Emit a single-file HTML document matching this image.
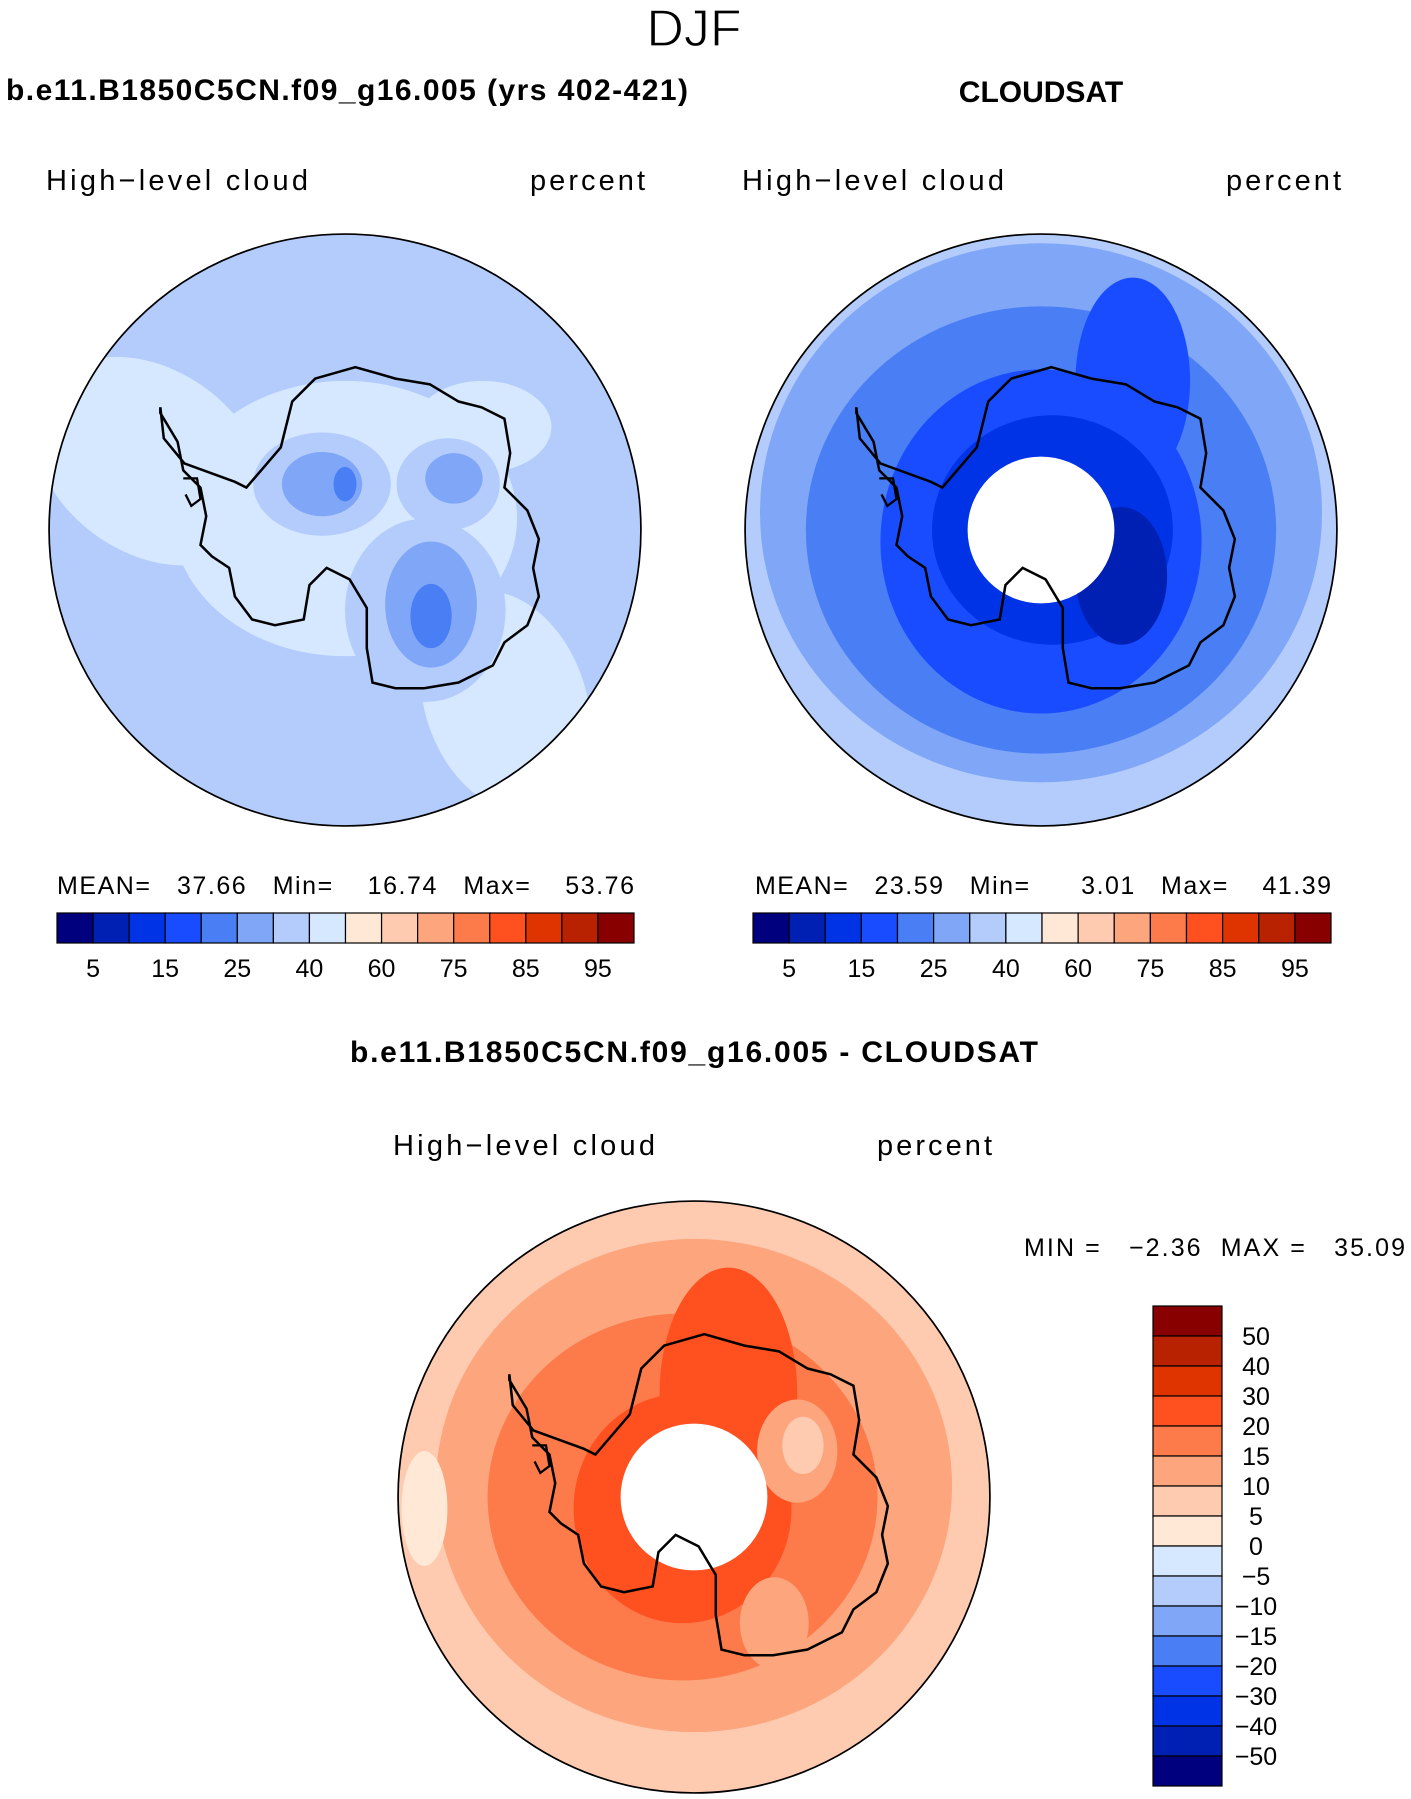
<!DOCTYPE html>
<html><head><meta charset="utf-8"><style>
body{margin:0;background:#fff;width:1411px;height:1799px;overflow:hidden;font-family:"Liberation Sans",sans-serif}
svg{position:absolute;left:0;top:0}
</style></head><body>
<svg id="s" width="1411" height="1799" xmlns="http://www.w3.org/2000/svg">
<text x="694" y="46" font-size="52" text-anchor="middle" fill="#000" stroke="#fff" stroke-width="1.2">DJF</text>
<text x="6" y="100" font-size="30" font-weight="bold" textLength="682">b.e11.B1850C5CN.f09_g16.005 (yrs 402-421)</text>
<text x="1041" y="102" font-size="30" font-weight="bold" text-anchor="middle">CLOUDSAT</text>
<text x="46" y="190" font-size="29" textLength="262">High−level cloud</text>
<text x="530" y="190" font-size="29" textLength="115">percent</text>
<text x="742" y="190" font-size="29" textLength="262">High−level cloud</text>
<text x="1226" y="190" font-size="29" textLength="115">percent</text>
<text x="694" y="1062" font-size="30" font-weight="bold" text-anchor="middle" textLength="688">b.e11.B1850C5CN.f09_g16.005 - CLOUDSAT</text>
<text x="393" y="1155" font-size="29" textLength="262">High−level cloud</text>
<text x="877" y="1155" font-size="29" textLength="115">percent</text>
<text x="57" y="894" font-size="25" textLength="577" xml:space="preserve">MEAN=   37.66   Min=    16.74   Max=    53.76</text>
<text x="755" y="894" font-size="25" textLength="576" xml:space="preserve">MEAN=   23.59   Min=      3.01   Max=    41.39</text>
<text x="1024" y="1256" font-size="25" textLength="381" xml:space="preserve">MIN =   −2.36  MAX =   35.09</text>
<defs>
<clipPath id="cl"><circle cx="0" cy="0" r="258"/></clipPath>
<g id="coast">
<path d="M-161,-107 L-158,-80 L-140,-58 L-96,-42 L-86,-37 L-56,-72 L-46,-112 L-26,-132 L9,-142 L44,-132 L74,-127 L99,-112 L119,-107 L139,-97 L144,-67 L139,-37 L159,-17 L169,8 L164,33 L169,58 L159,83 L139,98 L129,118 L99,133 L69,138 L44,138 L24,133 L19,103 L19,68 L4,43 L-16,33 L-31,48 L-36,78 L-61,83 L-81,78 L-96,58 L-101,33 L-116,23 L-126,13 L-121,-12 L-126,-37 L-141,-52 L-146,-77 L-161,-102 Z" fill="none" stroke="#000" stroke-width="2.2"/>
<path d="M-141,-45 l12,0 l3,18 l-8,6 l-5,-10" fill="none" stroke="#000" stroke-width="2"/>
</g>
</defs>
<g id="maps"></g>
<g id="bars"></g>
</svg>
<script>
// colorbar data
const absLevels=[5,10,15,20,25,30,40,50,60,70,75,80,85,90,95];
const absLabels=[5,15,25,40,60,75,85,95];
const absColors=["#00007f","#0020b4","#0033e6","#1a4cff","#4a7ef5","#80a6f7","#b3ccfb","#d6e8ff","#ffe9d6","#fecbb0","#fda67e","#fd7b4b","#ff5020","#e03400","#b82200","#880000"];
const diffLevels=[50,40,30,20,15,10,5,0,-5,-10,-15,-20,-30,-40,-50];
const diffColors=["#880000","#b82200","#e03400","#ff5020","#fd7b4b","#fda67e","#fecbb0","#ffe9d6","#d6e8ff","#b3ccfb","#80a6f7","#4a7ef5","#1a4cff","#0033e6","#0020b4","#00007f"];
const NS="http://www.w3.org/2000/svg";
const S=document.getElementById('s'),B=document.getElementById('bars'),M=document.getElementById('maps');
function mk(t,a,p){const e=document.createElementNS(NS,t);for(const k in a)e.setAttribute(k,a[k]);(p||B).appendChild(e);return e;}
function hbar(x0,x1,y0,y1,nm){
  const n=absColors.length,w=(x1-x0)/n;
  absColors.forEach((c,i)=>{const r=mk('rect',{x:x0+i*w,y:y0,width:w,height:y1-y0,fill:c,stroke:'#000','stroke-width':1.2});
    
    });
  absLevels.forEach((v,i)=>{if(absLabels.indexOf(v)<0)return;
    const t=mk('text',{x:x0+(i+1)*w,y:y1+34,'font-size':25,'text-anchor':'middle'});t.textContent=v;
    
    });
}
hbar(57,634,913,943,'left-colorbar');
hbar(753,1331,913,943,'right-colorbar');
(function(){const x0=1153,x1=1222,y0=1306,y1=1786,n=diffColors.length,h=(y1-y0)/n;
  diffColors.forEach((c,i)=>{const r=mk('rect',{x:x0,y:y0+i*h,width:x1-x0,height:h,fill:c,stroke:'#000','stroke-width':1.2});
    
    });
  diffLevels.forEach((v,i)=>{const t=mk('text',{x:1256,y:y0+(i+1)*h+9,'font-size':25,'text-anchor':'middle'});t.textContent=String(v).replace('-','−');
    
    });
})();
function panel(cx,cy,name,layers,hole){
  const g=mk('g',{transform:`translate(${cx},${cy}) scale(1.147)`},M);
  
  
  const inner=mk('g',{'clip-path':'url(#cl)'},g);
  layers.forEach(L=>{
    if(L[0]==='c')mk('circle',{cx:L[2],cy:L[3],r:L[4],fill:L[1]},inner);
    else mk('ellipse',{cx:L[2],cy:L[3],rx:L[4],ry:L[5],fill:L[1],transform:`rotate(${L[6]||0} ${L[2]} ${L[3]})`},inner);
  });
  if(hole)mk('circle',{cx:0,cy:0,r:64,fill:'#fff'},inner);
  mk('use',{href:'#coast'},g);
  mk('circle',{cx:0,cy:0,r:258,fill:'none',stroke:'#000','stroke-width':1.5},g);
}
panel(345,530,'model-map',[
 ['c','#b3ccfb',0,0,258],
 ['e','#d6e8ff',-170,-60,110,80,35],['e','#d6e8ff',0,-10,150,120,0],['e','#d6e8ff',140,150,70,100,-20],['e','#d6e8ff',120,-90,60,40,0],
 ['e','#b3ccfb',-20,-40,60,45,0],['e','#b3ccfb',90,-40,45,40,0],['e','#b3ccfb',70,70,70,80,0],
 ['e','#80a6f7',-20,-40,35,28,0],['e','#80a6f7',95,-45,25,22,0],['e','#80a6f7',75,65,40,55,0],
 ['e','#4a7ef5',75,75,18,28,0],['e','#4a7ef5',0,-40,10,15,0]
],false);
panel(1041,530,'cloudsat-map',[
 ['c','#b3ccfb',0,0,258],['e','#80a6f7',0,-15,245,235,0],
 ['e','#4a7ef5',0,0,205,195,0],['e','#1a4cff',0,10,140,150,0],['e','#1a4cff',80,-130,50,90,0],
 ['e','#0033e6',10,0,105,100,0],['e','#0020b4',70,40,40,60,0]
],true);
panel(694,1497,'difference-map',[
 ['c','#fecbb0',0,0,258],
 ['e','#fda67e',0,-10,225,215,0],['e','#fd7b4b',-10,0,170,160,0],['e','#ff5020',30,-90,60,110,0],
 ['e','#ff5020',-10,10,95,100,0],['e','#fda67e',90,-40,35,45,0],['e','#fecbb0',95,-45,18,25,0],['e','#fda67e',70,110,30,40,0],
 ['e','#ffe9d6',-235,10,20,50,0]
],true);
</script>
</body></html>
